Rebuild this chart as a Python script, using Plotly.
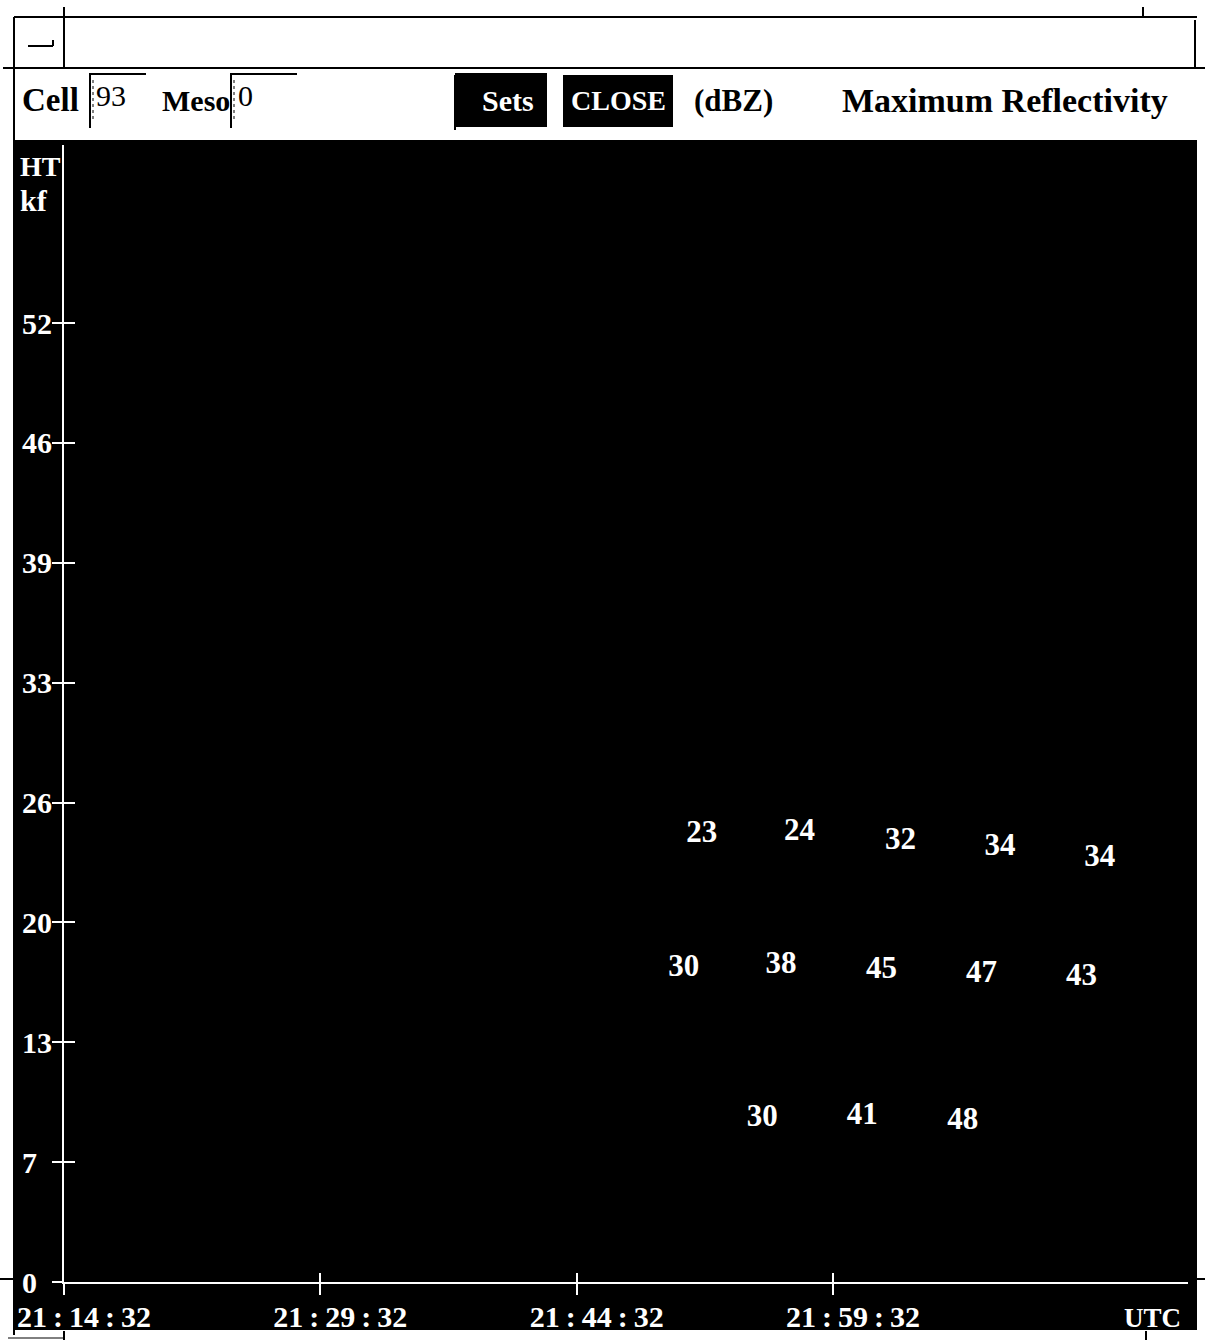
import plotly.graph_objects as go

# ---------------- data ----------------
BASE_DATE = "2000-01-01 "
upper_times = ["21:51:51", "21:57:34", "22:03:29", "22:09:18", "22:15:08"]
upper_heights = [24.3, 24.4, 23.9, 23.6, 23.0]
upper_dbz = [23, 24, 32, 34, 34]

middle_times = ["21:50:48", "21:56:29", "22:02:22", "22:08:13", "22:14:04"]
middle_heights = [17.0, 17.2, 16.9, 16.7, 16.5]
middle_dbz = [30, 38, 45, 47, 43]

lower_times = ["21:55:23", "22:01:14", "22:07:07"]
lower_heights = [8.9, 9.0, 8.7]
lower_dbz = [30, 41, 48]

x_tick_times = ["21:14:32", "21:29:32", "21:44:32", "21:59:32"]
y_tick_values = [0, 6.5, 13, 19.5, 26, 32.5, 39, 45.5, 52]
y_tick_labels = ["0", "7", "13", "20", "26", "33", "39", "46", "52"]

x_range = ["21:14:32", "22:20:18"]
y_range = [0, 61.66]

cell_id = "93"
meso_id = "0"
title_text = "Maximum Reflectivity"
units_text = "(dBZ)"

# ---------------- layout geometry ----------------
W, H = 1205, 1340
ML, MR, MT, MB = 64, 17, 145, 58
PW = W - ML - MR
PH = H - MT - MB

def px(x):
    return (x - ML) / PW

def py(y):
    return (H - MB - y) / PH

SERIF = "Liberation Serif"
FG = "white"

def t(s):
    return BASE_DATE + s

def fmt_time(s):
    return "\u2009:\u2009".join(s.split(":"))

fig = go.Figure()

for times, heights, vals in [(upper_times, upper_heights, upper_dbz),
                             (middle_times, middle_heights, middle_dbz),
                             (lower_times, lower_heights, lower_dbz)]:
    fig.add_trace(go.Scatter(
        x=[t(s) for s in times], y=heights, mode="text",
        text=[str(v) for v in vals], textposition="middle center",
        textfont=dict(family=SERIF, size=31, color=FG, weight="bold"),
        showlegend=False, hoverinfo="skip"))

# invisible trace for the overlay axes (outside tick halves)
fig.add_trace(go.Scatter(x=[], y=[], xaxis="x2", yaxis="y2", showlegend=False))

tick_font = dict(family=SERIF, size=30, color=FG, weight="bold")
y_labels = [lbl if len(lbl) > 1 else lbl + "\u2007" for lbl in y_tick_labels]

fig.update_layout(
    width=W, height=H, template="none",
    margin=dict(l=ML, r=MR, t=MT, b=MB, pad=0, autoexpand=False),
    paper_bgcolor="white", plot_bgcolor="black",
    showlegend=False,
    xaxis=dict(type="date", range=[t(x_range[0]), t(x_range[1])],
               tickvals=[t(s) for s in x_tick_times],
               ticktext=[fmt_time(s) for s in x_tick_times],
               ticks="inside", ticklen=9, tickwidth=2, tickcolor=FG,
               showline=True, linecolor=FG, linewidth=2,
               showgrid=False, zeroline=False, automargin=False,
               tickfont=tick_font, ticklabelshift=20, ticklabelstandoff=7,
               fixedrange=True),
    yaxis=dict(range=y_range, tickvals=y_tick_values, ticktext=y_labels,
               ticks="inside", ticklen=11, tickwidth=2, tickcolor=FG,
               showline=True, linecolor=FG, linewidth=2,
               showgrid=False, zeroline=False, automargin=False,
               tickfont=tick_font, ticklabelstandoff=4, fixedrange=True),
    xaxis2=dict(type="date", overlaying="x", anchor="y", side="bottom",
                range=[t(x_range[0]), t(x_range[1])],
                tickvals=[t(s) for s in x_tick_times],
                ticks="outside", ticklen=12, tickwidth=2, tickcolor=FG,
                showticklabels=False, showline=False, showgrid=False,
                zeroline=False, automargin=False, fixedrange=True),
    yaxis2=dict(overlaying="y", anchor="x", side="left", range=y_range,
                tickvals=y_tick_values, ticks="outside", ticklen=11,
                tickwidth=2, tickcolor=FG, showticklabels=False,
                showline=False, showgrid=False, zeroline=False,
                automargin=False, fixedrange=True),
)

shapes = []

def rect(x0, y0, x1, y1, fill, layer="below"):
    shapes.append(dict(type="rect", xref="paper", yref="paper",
                       x0=px(x0), x1=px(x1), y0=py(y1), y1=py(y0),
                       fillcolor=fill, line=dict(width=0), layer=layer))

def line(x0, y0, x1, y1, color="black", width=2, dash="solid"):
    shapes.append(dict(type="line", xref="paper", yref="paper",
                       x0=px(x0), x1=px(x1), y0=py(y0), y1=py(y1),
                       line=dict(color=color, width=width, dash=dash),
                       layer="above"))

# black display region
rect(15, 140, 1197, 1330, "black")

# window frame
line(14, 17, 1197, 17)
line(64, 7, 64, 68)
line(1143, 7, 1143, 17)
line(14, 17, 14, 1335)
line(1195, 20, 1195, 68)
line(3, 68, 1205, 68)
line(28, 46, 53, 46)
line(53, 40, 53, 46)
line(0, 1279, 14, 1279)
line(1197, 1279, 1205, 1279)
line(1197, 68, 1205, 68)
line(64, 1331, 64, 1340)
line(1146, 1331, 1146, 1340)
line(8, 1338, 64, 1338, width=1)

# input boxes
line(90, 73, 90, 128)
line(90, 74, 146, 74)
line(93, 80, 93, 122, width=1, dash="dot")
line(231, 73, 231, 128)
line(231, 74, 297, 74)
line(234, 80, 234, 122, width=1, dash="dot")

# buttons
rect(455, 73, 547, 127, "black", layer="above")
line(455, 75, 455, 130)
rect(563, 75, 673, 127, "black", layer="above")

fig.update_layout(shapes=shapes)

def ann(x, y, text, size, color="black", bold=True, xanchor="center"):
    fig.add_annotation(xref="paper", yref="paper", x=px(x), y=py(y),
                       text=text, showarrow=False, xanchor=xanchor,
                       yanchor="middle",
                       font=dict(family=SERIF, size=size, color=color,
                                 weight="bold" if bold else "normal"))

ann(20, 100, "Cell", 33, xanchor="left")
ann(94, 96, cell_id, 30, bold=False, xanchor="left")
ann(160, 100, "Meso", 30, xanchor="left")
ann(236, 96, meso_id, 30, bold=False, xanchor="left")
ann(508, 100, "Sets", 30, color="white")
ann(618, 100, "CLOSE", 28, color="white")
ann(733, 100, units_text, 31)
ann(1005, 100, title_text, 34)
ann(18, 166, "HT", 28, color="white", xanchor="left")
ann(18, 200, "kf", 30, color="white", xanchor="left")
ann(1152, 1318, "UTC", 27, color="white")

fig.write_html("out.html", config={"displayModeBar": False},
               post_script="document.body.style.margin='0';document.body.style.overflow='hidden';")
